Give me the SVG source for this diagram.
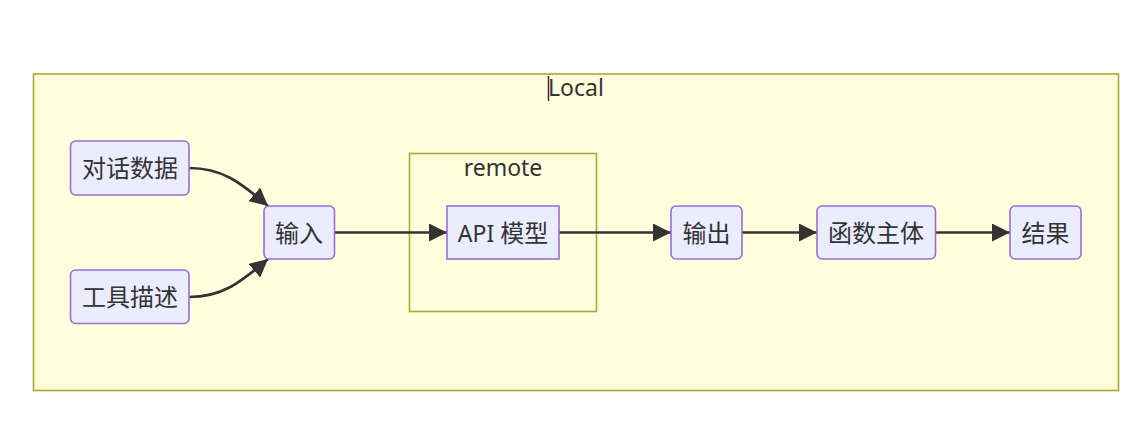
<svg xmlns="http://www.w3.org/2000/svg" width="1144" height="423" viewBox="0 0 1144 423">
<defs>
<style>
text{font-family:"Noto Sans","Noto Sans CJK SC",sans-serif;font-size:23px;fill:#333;text-anchor:middle}
.cjk{font-size:24px}
.cluster{fill:#ffffde;stroke:#aaaa33;stroke-width:1.6}
.node{fill:#ECECFF;stroke:#9370DB;stroke-width:1.6}
.edge{fill:none;stroke:#333;stroke-width:2.6}
</style>
<marker id="arrow" markerUnits="userSpaceOnUse" viewBox="0 0 18 18" refX="18" refY="9" markerWidth="18" markerHeight="18" orient="auto">
<path d="M0,0 L18,9 L0,18 z" fill="#333"/>
</marker>
</defs>
<rect width="1144" height="423" fill="#ffffff"/>
<g id="Local">
<rect class="cluster" x="33.5" y="74" width="1085" height="316.5"/>
<text x="576" y="96">Local</text>
<line x1="548.5" y1="76" x2="548.5" y2="101" stroke="#333" stroke-width="1.5"/>
</g>
<g id="remote">
<rect class="cluster" x="409.5" y="153.5" width="187" height="158"/>
<text x="503" y="176">remote</text>
</g>
<g id="edges">
<path class="edge" d="M189,168 C222,168 240,182 268,206" marker-end="url(#arrow)"/>
<path class="edge" d="M189,297 C222,297 240,283 268,259" marker-end="url(#arrow)"/>
<path class="edge" d="M335,232.5 L447,232.5" marker-end="url(#arrow)"/>
<path class="edge" d="M559,232.5 L671,232.5" marker-end="url(#arrow)"/>
<path class="edge" d="M742,232.5 L817,232.5" marker-end="url(#arrow)"/>
<path class="edge" d="M936,232.5 L1010,232.5" marker-end="url(#arrow)"/>
</g>
<g id="n_dialog">
<rect class="node" x="70.5" y="141" width="118.5" height="54" rx="5"/>
<text class="cjk" x="130" y="177">对话数据</text>
</g>
<g id="n_tools">
<rect class="node" x="70.5" y="270" width="118.5" height="53.5" rx="5"/>
<text class="cjk" x="130" y="306">工具描述</text>
</g>
<g id="n_input">
<rect class="node" x="264" y="206" width="70.5" height="53" rx="5"/>
<text class="cjk" x="299" y="241.5">输入</text>
</g>
<g id="n_api">
<rect class="node" x="447" y="206" width="112" height="53"/>
<text x="503" y="241.5">API <tspan class="cjk">模型</tspan></text>
</g>
<g id="n_output">
<rect class="node" x="671" y="206" width="71" height="53" rx="5"/>
<text class="cjk" x="706.5" y="241.5">输出</text>
</g>
<g id="n_func">
<rect class="node" x="817" y="206" width="118.5" height="53" rx="5"/>
<text class="cjk" x="876" y="241.5">函数主体</text>
</g>
<g id="n_result">
<rect class="node" x="1010" y="206" width="71" height="53" rx="5"/>
<text class="cjk" x="1045.5" y="241.5">结果</text>
</g>
</svg>
